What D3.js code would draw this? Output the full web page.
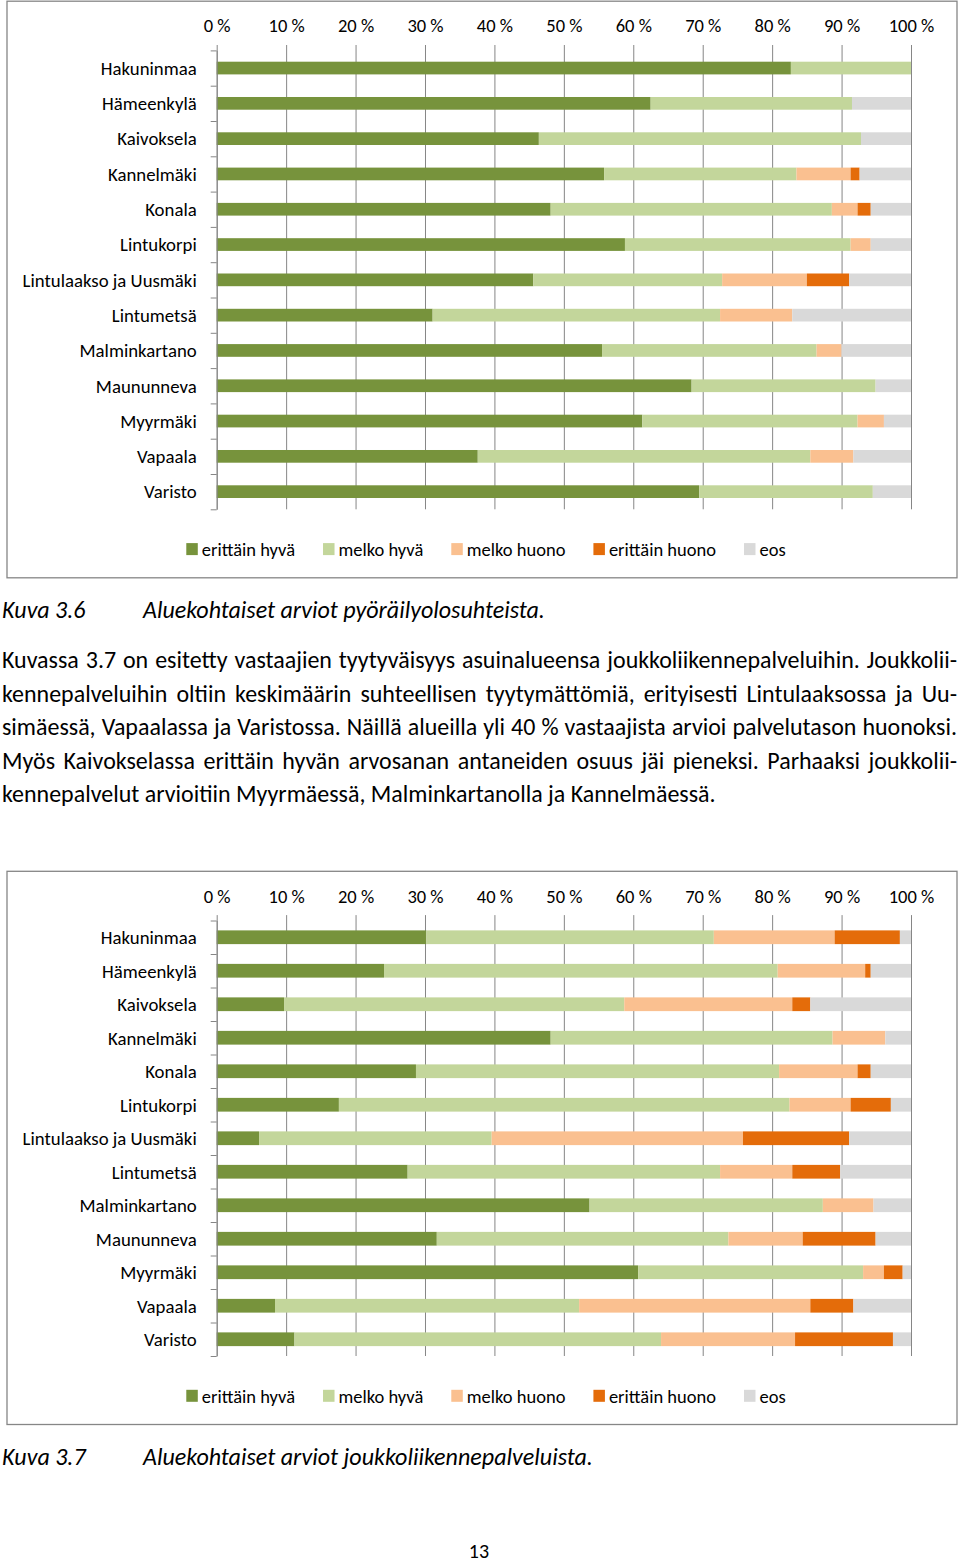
<!DOCTYPE html>
<html><head><meta charset="utf-8">
<script src="https://cdn.jsdelivr.net/npm/d3@7"></script>
<style>
body{margin:0;background:#fff}
svg{display:block}
text{font-family:Carlito, Lato, sans-serif; fill:#000}
</style>
</head><body>
<svg id="page" width="960" height="1565"></svg>
<script>
// ---------- shared ----------
const categories = ["Hakuninmaa","Hämeenkylä","Kaivoksela","Kannelmäki","Konala","Lintukorpi","Lintulaakso ja Uusmäki","Lintumetsä","Malminkartano","Maununneva","Myyrmäki","Vapaala","Varisto"];
const seriesNames = ["erittäin hyvä","melko hyvä","melko huono","erittäin huono","eos"];
const seriesColors = ["#77933C","#C3D69B","#FAC090","#E46C0A","#D9D9D9"];
const tickValues = [0,10,20,30,40,50,60,70,80,90,100];
const tickLabels = ["0 %","10 %","20 %","30 %","40 %","50 %","60 %","70 %","80 %","90 %","100 %"];

// ---------- Kuva 3.6: pyöräilyolosuhteet (%) ----------
const pyoErittainHyva  = [82.7,62.5,46.4,55.8,48.1,58.8,45.6,31.1,55.5,68.4,61.3,37.6,69.5];
const pyoMelkoHyva     = [17.3,29.0,46.4,27.7,40.5,32.5,27.2,41.4,30.9,26.5,31.0,47.9,25.0];
const pyoMelkoHuono    = [0,0,0,7.8,3.7,2.9,12.2,10.4,3.6,0,3.8,6.2,0];
const pyoErittainHuono = [0,0,0,1.3,1.9,0,6.1,0,0,0,0,0,0];
const pyoEos           = [0,8.5,7.2,7.4,5.8,5.8,8.9,17.1,10.0,5.1,3.9,8.3,5.5];

// ---------- Kuva 3.7: joukkoliikennepalvelut (%) ----------
const joErittainHyva  = [30.2,24.1,9.7,48.1,28.7,17.6,6.1,27.5,53.7,31.7,60.7,8.4,11.2];
const joMelkoHyva     = [41.4,56.7,49.0,40.6,52.3,64.9,33.5,45.0,33.6,42.0,32.4,43.8,52.8];
const joMelkoHuono    = [17.4,12.6,24.2,7.6,11.3,8.8,36.2,10.4,7.3,10.7,3.0,33.3,19.3];
const joErittainHuono = [9.4,0.8,2.6,0,1.9,5.8,15.3,6.9,0,10.5,2.7,6.2,14.1];
const joEos           = [1.6,5.8,14.5,3.7,5.8,2.9,8.9,10.2,5.4,5.1,1.2,8.3,2.6];

// ---------- texts ----------
const caption1 = ["Kuva 3.6", "Aluekohtaiset arviot pyöräilyolosuhteista."];
const caption2 = ["Kuva 3.7", "Aluekohtaiset arviot joukkoliikennepalveluista."];
const paragraph = [
  "Kuvassa 3.7 on esitetty vastaajien tyytyväisyys asuinalueensa joukkoliikennepalveluihin. Joukkolii-",
  "kennepalveluihin oltiin keskimäärin suhteellisen tyytymättömiä, erityisesti Lintulaaksossa ja Uu-",
  "simäessä, Vapaalassa ja Varistossa. Näillä alueilla yli 40 % vastaajista arvioi palvelutason huonoksi.",
  "Myös Kaivokselassa erittäin hyvän arvosanan antaneiden osuus jäi pieneksi. Parhaaksi joukkolii-",
  "kennepalvelut arvioitiin Myyrmäessä, Malminkartanolla ja Kannelmäessä."
];
const pageNumber = "13";

const svg = d3.select("#page");
const GRID = "#868686";
const FS_TICK = 18.5, FS_CAT = 18.8, FS_LEG = 18.5;

function drawChart(cfg, seriesArrays) {
  const n = categories.length;
  const plotTop = cfg.frameTop + 49.2;
  const plotBottom = plotTop + cfg.step * n;
  const gridTop = cfg.frameTop + 43.8;
  const x = d3.scaleLinear().domain([0, 100]).range([216.7, 911]);
  const y = d3.scaleBand().domain(categories).range([plotTop, plotBottom]);
  const yEdge = d3.scaleLinear().domain([0, n]).range([plotTop, plotBottom]);
  const g = svg.append("g");

  // frame
  g.append("rect")
    .attr("x", 7).attr("y", cfg.frameTop)
    .attr("width", 950).attr("height", plotBottom + 68.5 - cfg.frameTop)
    .attr("fill", "none").attr("stroke", GRID).attr("stroke-width", 1.3);

  // top value axis with gridlines
  const labelBaseline = cfg.frameTop + 24.6 + 0.36 * FS_TICK;
  const axTop = d3.axisTop(x)
    .tickValues(tickValues)
    .tickFormat((d, i) => tickLabels[i])
    .tickSizeInner(plotBottom - gridTop)
    .tickSizeOuter(0)
    .tickPadding(gridTop - labelBaseline);
  g.append("g").attr("transform", `translate(0,${plotBottom})`).call(axTop)
    .call(s => s.select(".domain").remove())
    .call(s => s.selectAll(".tick line").attr("stroke", GRID).attr("stroke-width", 1))
    .call(s => s.selectAll(".tick text").attr("font-size", FS_TICK).attr("fill", "#000")
      .style("font-family", "Carlito, Lato, sans-serif"));

  // stacked bars
  const rows = categories.map((c, i) => {
    const r = { cat: c };
    seriesNames.forEach((s, k) => r[s] = seriesArrays[k][i]);
    return r;
  });
  const stacked = d3.stack().keys(seriesNames)(rows);
  const bh = cfg.step * cfg.barFrac;
  g.append("g").selectAll("g").data(stacked).join("g")
    .attr("fill", (d, k) => seriesColors[k])
    .selectAll("rect").data(d => d.filter(p => p[1] - p[0] > 0)).join("rect")
    .attr("x", p => x(p[0]))
    .attr("width", p => x(p[1]) - x(p[0]))
    .attr("y", p => y(p.data.cat) + (y.bandwidth() - bh) / 2)
    .attr("height", bh);

  // left category axis: edge ticks
  g.append("g").attr("transform", "translate(216.7,0)")
    .call(d3.axisLeft(yEdge).tickValues(d3.range(n + 1)).tickFormat("").tickSizeInner(6).tickSizeOuter(0))
    .call(s => s.selectAll("line,path").attr("stroke", GRID));

  // category labels
  g.append("g").attr("transform", "translate(216.7,0)")
    .call(d3.axisLeft(y).tickSize(0).tickPadding(20))
    .call(s => s.select(".domain").remove())
    .call(s => s.selectAll(".tick text").attr("font-size", FS_CAT).attr("fill", "#000")
      .attr("dy", "0.36em")
      .style("font-family", "Carlito, Lato, sans-serif"));

  // legend
  const legendY = plotBottom + 40.3;
  const lg = g.append("g");
  const items = lg.selectAll("g").data(seriesNames).join("g");
  items.append("rect").attr("width", 11.5).attr("height", 12).attr("y", legendY - 6.5)
    .attr("fill", (d, k) => seriesColors[k]);
  items.append("text").text(d => d).attr("x", 15.5).attr("y", legendY + 0.36 * FS_LEG).attr("font-size", FS_LEG);
  const GAP = 28;
  let cx = 0;
  const offs = [];
  items.each(function () {
    offs.push(cx);
    cx += 15.5 + this.querySelector("text").getComputedTextLength() + GAP;
  });
  const total = cx - GAP;
  const startX = 486 - total / 2;
  items.attr("transform", (d, k) => `translate(${startX + offs[k]},0)`);
}

drawChart({ frameTop: 1.2, step: 35.3, barFrac: 0.36 },
  [pyoErittainHyva, pyoMelkoHyva, pyoMelkoHuono, pyoErittainHuono, pyoEos]);
drawChart({ frameTop: 871.3, step: 33.5, barFrac: 0.41 },
  [joErittainHyva, joMelkoHyva, joMelkoHuono, joErittainHuono, joEos]);

// captions (italic), sized to the reference text width
function caption(cy, parts, targetW) {
  const t2 = svg.append("text").attr("x", 143).attr("font-size", 20).attr("font-style", "italic").text(parts[1]);
  const fs = 20 * targetW / t2.node().getComputedTextLength();
  t2.attr("font-size", fs).attr("y", cy + 0.34 * fs);
  svg.append("text").attr("x", 2).attr("y", cy + 0.34 * fs).attr("font-size", fs).attr("font-style", "italic").text(parts[0]);
}
caption(610, caption1, 402);
caption(1457, caption2, 450);

// paragraph (justified)
const probe = svg.append("text").attr("font-size", 20).text(paragraph[paragraph.length - 1]);
const fs = 20 * 714 / probe.node().getComputedTextLength();
probe.remove();
const lineCenters = [661, 694.5, 728, 761.5, 795];
paragraph.forEach((line, i) => {
  const t = svg.append("text").attr("x", 2).attr("y", lineCenters[i] + 7).attr("font-size", fs).text(line);
  if (i < paragraph.length - 1) {
    const w = t.node().getComputedTextLength();
    const spaces = (line.match(/ /g) || []).length;
    t.attr("word-spacing", (955 - w) / spaces);
  }
});

svg.append("text").attr("x", 479).attr("y", 1558).attr("font-size", 20).attr("text-anchor", "middle").text(pageNumber);
</script>
</body></html>
